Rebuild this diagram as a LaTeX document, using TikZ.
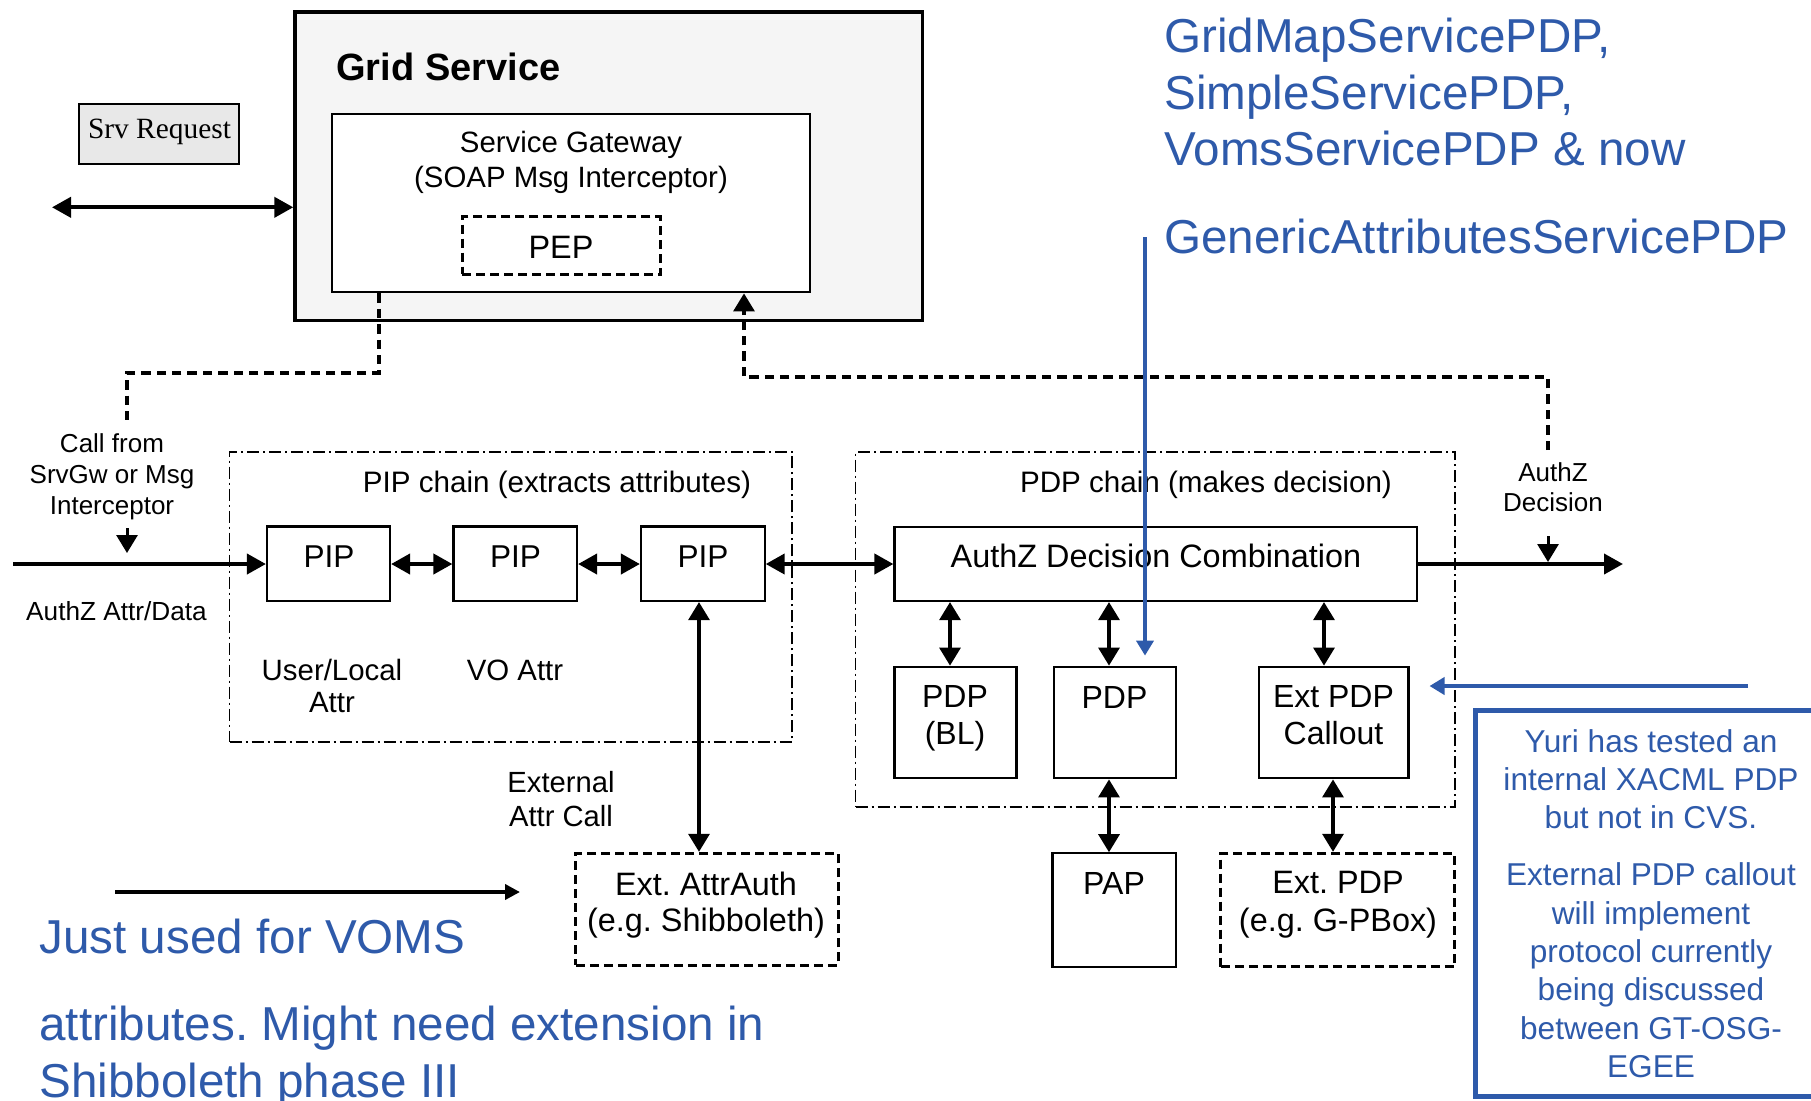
\documentclass[tikz,border=0pt]{standalone}
\usepackage{fontspec}
\setmainfont{Liberation Sans}
\newfontfamily\serifrm{Liberation Serif}
\usetikzlibrary{arrows.meta,fit}
\frenchspacing
\definecolor{noteblue}{RGB}{46,90,170}
\definecolor{gsfill}{RGB}{245,245,245}
\definecolor{srfill}{RGB}{232,232,232}
\tikzset{
  tipA/.tip={Triangle[length=9.5pt,width=10pt]},
  tipB/.tip={Triangle[length=9pt,width=10.5pt]},
  tipC/.tip={Triangle[length=7.5pt,width=8.5pt]},
  box/.style={draw=black, line width=1.1pt, inner sep=0pt, fill=white},
  gsbox/.style={draw=black, line width=1.7pt, inner sep=0pt, fill=gsfill},
  dbox/.style={draw=black, line width=1.5pt, dash pattern=on 4.5pt off 2.5pt, inner sep=0pt, fill=white},
  chain/.style={draw=black, line width=0.8pt, dash pattern=on 6pt off 2pt on 1pt off 2pt, inner sep=0pt},
  txt/.style={inner sep=0pt, align=center},
  bluetxt/.style={inner sep=0pt, text=noteblue},
  arr/.style={line width=2pt, -{tipA}},
  dbl/.style={line width=2pt, {tipA}-{tipA}},
  dblv/.style={line width=1.6pt, {tipB}-{tipB}},
  thinarr/.style={line width=1.5pt, -{tipB}},
  dsh/.style={line width=1.6pt, dash pattern=on 4.7pt off 3pt},
  bluearr/.style={draw=noteblue, line width=2pt, -{tipC}},
}
\begin{document}
\begin{tikzpicture}[x=0.5pt,y=-0.5pt]
\useasboundingbox (0,0) rectangle (1811,1100);
\clip (0,0) rectangle (1811,1100);

% Grid service
\node[gsbox, fit={(295,12) (922.5,320.5)}] (gs) {};
\node[inner sep=0pt, anchor=base west, font=\bfseries\fontsize{19}{22}\selectfont] (gst) at (336,80) {Grid Service};
\node[box, fill=srfill, line width=1pt, fit={(79.3,104.3) (239.3,164.3)}] (srv) {};
\node[inner sep=0pt, anchor=base, font=\serifrm\fontsize{14.7}{17}\selectfont] (srvt) at (159.5,138) {Srv Request};
\node[box, fit={(332,114) (810,292.3)}] (gw) {};
\node[txt, anchor=north, font=\fontsize{14.7}{17.5}\selectfont] (gwt) at (571,131) {Service Gateway\\(SOAP Msg Interceptor)};
\node[dbox, fit={(462.4,216.7) (660.6,274.3)}] (pep) {};
\node[txt, anchor=base, font=\fontsize{16.2}{19}\selectfont] (pept) at (561,258) {PEP};

% chains
\node[chain, fit={(229.6,451.7) (792.2,741.7)}] (pipc) {};
\node[txt, anchor=base, font=\fontsize{14.8}{17}\selectfont] (pipct) at (557,492) {PIP chain (extracts attributes)};
\node[chain, fit={(855.5,451.7) (1455,806.7)}] (pdpc) {};
\node[txt, anchor=base, font=\fontsize{14.8}{17}\selectfont] (pdpct) at (1206,492) {PDP chain (makes decision)};

% boxes
\node[box, fit={(267,526.5) (390,601)}] (pip1) {};
\node[box, fit={(453.5,526.5) (577,601)}] (pip2) {};
\node[box, fit={(641,526.5) (764.6,601)}] (pip3) {};
\node[txt, anchor=base, font=\fontsize{15.8}{19}\selectfont] (pip1t) at (329,567) {PIP};
\node[txt, anchor=base, font=\fontsize{15.8}{19}\selectfont] (pip2t) at (515.5,567) {PIP};
\node[txt, anchor=base, font=\fontsize{15.8}{19}\selectfont] (pip3t) at (703,567) {PIP};
\node[box, fit={(894.5,526.7) (1417,601)}] (adc) {};
\node[txt, anchor=base, font=\fontsize{16.2}{19}\selectfont] (adct) at (1156,567) {AuthZ Decision Combination};
\node[box, fit={(894.5,666.7) (1016.5,778.3)}] (pdpbl) {};
\node[txt, anchor=north, font=\fontsize{16}{18.5}\selectfont] (pdpblt) at (955,685) {PDP\\(BL)};
\node[box, fit={(1053.6,666.7) (1176.2,778.3)}] (pdp) {};
\node[txt, anchor=base, font=\fontsize{16}{18.5}\selectfont] (pdpt) at (1114.5,708) {PDP};
\node[box, fit={(1259.2,666.7) (1408.4,778.3)}] (extcall) {};
\node[txt, anchor=north, font=\fontsize{16}{18.5}\selectfont] (extcallt) at (1333.5,685) {Ext PDP\\Callout};
\node[box, fit={(1052.4,853.3) (1176.2,966.7)}] (pap) {};
\node[txt, anchor=base, font=\fontsize{16}{18.5}\selectfont] (papt) at (1114,894) {PAP};
\node[dbox, fit={(1220.8,853.3) (1454.9,966.7)}] (extpdp) {};
\node[txt, anchor=north, font=\fontsize{16.2}{19}\selectfont] (extpdpt) at (1338,871) {Ext. PDP\\(e.g. G-PBox)};
\node[dbox, fit={(575.8,853.3) (838.1,965)}] (attrauth) {};
\node[txt, anchor=north, font=\fontsize{16.2}{18}\selectfont] (attrautht) at (706,872) {Ext. AttrAuth\\(e.g. Shibboleth)};

% black labels
\node[txt, anchor=north, font=\fontsize{13}{15.5}\selectfont] (callfrom) at (112,433.5) {Call from\\SrvGw or Msg\\Interceptor};
\node[txt, anchor=base, font=\fontsize{13.1}{15.5}\selectfont] (attrdata) at (116.5,620) {AuthZ Attr/Data};
\node[txt, anchor=north, font=\fontsize{14.7}{16}\selectfont] (userlocal) at (332,659) {User/Local\\Attr};
\node[txt, anchor=base, font=\fontsize{14.7}{16}\selectfont] (voattr) at (515,680) {VO Attr};
\node[txt, anchor=north, font=\fontsize{14.6}{17}\selectfont] (extcallab) at (561,771) {External\\Attr Call};
\node[txt, anchor=north, font=\fontsize{13}{15}\selectfont] (decision) at (1553,462.5) {AuthZ\\Decision};

% coordinates for free ends
\coordinate (srvL) at (52,207.3);
\coordinate (inL) at (13,564);
\coordinate (outR) at (1623,564);
\coordinate (cftop) at (127,422);
\coordinate (cfa) at (127,528);
\coordinate (cfb) at (127,553);
\coordinate (adtop) at (1548,450);
\coordinate (ada) at (1548,536);
\coordinate (adb) at (1548,562);
\coordinate (ja) at (115,892);
\coordinate (jb) at (520,892);
\coordinate (gtail) at (1145,237);
\coordinate (ytail) at (1748,686);

% connectors
\draw[dbl] (srvL) -- (srvL -| gs.west);
\draw[arr] (inL) -- (pip1.west |- inL);
\draw[dbl] (pip1.east |- inL) -- (pip2.west |- inL);
\draw[dbl] (pip2.east |- inL) -- (pip3.west |- inL);
\draw[dbl] (pip3.east |- inL) -- (adc.west |- inL);
\draw[arr] (adc.east |- outR) -- (outR);
\draw[dblv] (pip3.south -| 699,0) -- (attrauth.north -| 699,0);
\draw[dblv] (adc.south -| 950,0) -- (pdpbl.north -| 950,0);
\draw[dblv] (adc.south -| 1109,0) -- (pdp.north -| 1109,0);
\draw[dblv] (adc.south -| 1324,0) -- (extcall.north -| 1324,0);
\draw[dblv] (pdp.south -| 1109,0) -- (pap.north -| 1109,0);
\draw[dblv] (extcall.south -| 1333,0) -- (extpdp.north -| 1333,0);
\draw[dsh] (gw.south -| 379,0) -- (379,373) -- (127,373) -- (cftop);
\draw[thinarr] (cfa) -- (cfb);
\draw[dsh, -{tipB}] (adtop) -- (1548,377) -- (744,377) -- (gw.south -| 744,0);
\draw[thinarr] (ada) -- (adb);
\draw[line width=2pt, -{Triangle[length=7.5pt,width=7.5pt]}] (ja) -- (jb);

% blue notes
\node[draw=noteblue, line width=2.5pt, inner sep=0pt, fit={(1475.5,710.5) (1860,1096.5)}] (note) {};
\node[bluetxt, align=center, anchor=north, font=\fontsize{15.8}{18.9}\selectfont] (note1) at (1651,729.4) {Yuri has tested an\\internal XACML PDP\\but not in CVS.};
\node[bluetxt, align=center, anchor=north, font=\fontsize{15.8}{19.2}\selectfont] (note2) at (1651,862.4) {External PDP callout\\will implement\\protocol currently\\being discussed\\between GT-OSG-\\EGEE};
\node[bluetxt, align=left, anchor=north west, font=\fontsize{23.8}{28.25}\selectfont] (pdps) at (1164,17.8) {GridMapServicePDP,\\SimpleServicePDP,\\VomsServicePDP \& now};
\node[bluetxt, anchor=base west, font=\fontsize{23.8}{28.25}\selectfont] (generic) at (1164,253) {GenericAttributesServicePDP};
\node[bluetxt, anchor=base west, font=\fontsize{23.8}{28.5}\selectfont] (voms1) at (39,953) {Just used for VOMS};
\node[bluetxt, align=left, anchor=north west, font=\fontsize{23.8}{28.5}\selectfont] (voms2) at (39,1006) {attributes. Might need extension in\\Shibboleth phase III};
\draw[bluearr, shorten >=5pt] (gtail) -- (pdp.north -| gtail);
\draw[bluearr, shorten >=10pt] (ytail) -- (extcall.east |- ytail);
\end{tikzpicture}
\end{document}
